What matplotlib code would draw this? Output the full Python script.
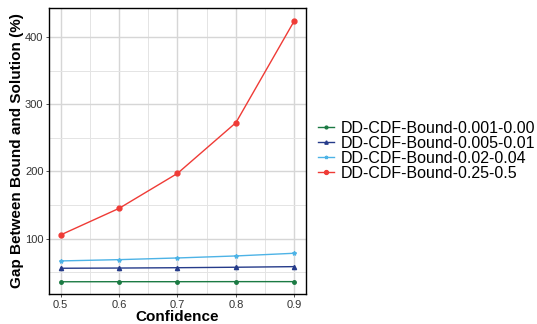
import matplotlib
matplotlib.use("Agg")
import matplotlib.pyplot as plt
from matplotlib.ticker import MultipleLocator

plt.rcParams["font.family"] = ["Liberation Sans", "DejaVu Sans"]

confidence = [0.5, 0.6, 0.7, 0.8, 0.9]
gap_001 = [35.8, 35.9, 35.9, 36.0, 36.0]
gap_005 = [55.9, 56.2, 56.7, 57.4, 58.3]
gap_02 = [66.8, 68.7, 71.2, 74.2, 78.2]
gap_25 = [105.5, 145.0, 197.0, 272.4, 424.0]

series = [
    ("DD-CDF-Bound-0.001-0.00", gap_001, "#1b7a43", "o", 2.5),
    ("DD-CDF-Bound-0.005-0.01", gap_005, "#253b8a", "^", 3),
    ("DD-CDF-Bound-0.02-0.04", gap_02, "#4db3e6", "*", 3),
    ("DD-CDF-Bound-0.25-0.5", gap_25, "#ef3b36", "o", 3.5),
]

fig = plt.figure(figsize=(5.37, 3.24), dpi=100)
ax = fig.add_axes([49 / 537, 1 - 294 / 324, 257 / 537, 286 / 324])

for label, vals, colour, marker, ms in series:
    ax.plot(confidence, vals, color=colour, marker=marker, markersize=ms,
            linewidth=1.0, label=label)

ax.set_xlim(0.48, 0.92)
ax.set_ylim(17.6, 443)
ax.xaxis.set_minor_locator(MultipleLocator(0.05))
ax.yaxis.set_major_locator(MultipleLocator(100))
ax.yaxis.set_minor_locator(MultipleLocator(50))
ax.set_xticks([0.5, 0.6, 0.7, 0.8, 0.9])
ax.set_xticklabels(["0.5", "0.6", "0.7", "0.8", "0.9"])
ax.grid(which="major", color="#d6d6d6", linewidth=1.0)
ax.grid(which="minor", color="#e4e4e4", linewidth=0.7)
ax.set_axisbelow(True)
ax.tick_params(which="major", length=2.5, width=0.6, labelsize=8,
               labelcolor="#333333", color="#333333", pad=1.5)
ax.tick_params(which="minor", length=0)
for sp in ax.spines.values():
    sp.set_linewidth(1.0)
    sp.set_color("black")

ax.set_xlabel("Confidence", fontsize=11, fontweight="bold", labelpad=0)
ax.set_ylabel("Gap Between Bound and Solution (%)", fontsize=11,
              fontweight="bold", labelpad=1)

fig.legend(loc="center left", bbox_to_anchor=(312 / 537, 1 - 151 / 324),
           frameon=False, fontsize=11.5, handlelength=1.0, handletextpad=0.4,
           labelspacing=0.0, borderaxespad=0, markerscale=0.8)

fig.savefig("out.png", dpi=100)
